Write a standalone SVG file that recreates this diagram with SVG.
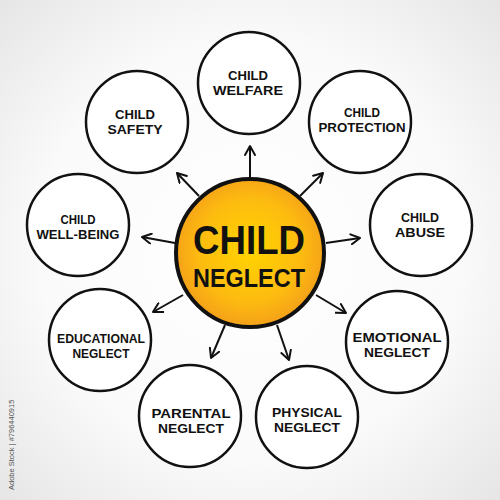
<svg xmlns="http://www.w3.org/2000/svg" width="500" height="500" viewBox="0 0 500 500">
<defs>
<radialGradient id="bg" cx="50%" cy="50%" r="70%">
<stop offset="0" stop-color="#ffffff"/>
<stop offset="0.6" stop-color="#fafafa"/>
<stop offset="1" stop-color="#e6e6e6"/>
</radialGradient>
<radialGradient id="core" cx="50%" cy="48%" r="50%">
<stop offset="0" stop-color="#ffd400"/>
<stop offset="0.7" stop-color="#fdbb10"/>
<stop offset="1" stop-color="#f5a318"/>
</radialGradient>
<marker id="ah" viewBox="0 0 12 12" refX="10" refY="6" markerWidth="12" markerHeight="12" markerUnits="userSpaceOnUse" orient="auto">
<path d="M1,1 L10,6 L1,11" fill="none" stroke="#111" stroke-width="2" stroke-linecap="round" stroke-linejoin="round"/>
</marker>
</defs>
<style>
.node circle{fill:#ffffff;stroke:#111;stroke-width:2.5}
.lbl{font-family:"Liberation Sans",Arial,sans-serif;font-weight:700;font-size:13px;fill:#111;text-anchor:middle}
.conn line{stroke:#111;stroke-width:2;marker-end:url(#ah)}
.big{font-family:"Liberation Sans",Arial,sans-serif;font-weight:700;fill:#111;text-anchor:middle}
</style>
<rect width="500" height="500" fill="url(#bg)"/>
<g id="connectors" class="conn">
<line x1="250" y1="180" x2="250" y2="146"/>
<line x1="300" y1="196" x2="323" y2="173"/>
<line x1="326" y1="243" x2="360" y2="238"/>
<line x1="316" y1="295" x2="346" y2="313"/>
<line x1="277" y1="325" x2="289" y2="360"/>
<line x1="225" y1="325" x2="211" y2="358"/>
<line x1="183" y1="295" x2="153" y2="312"/>
<line x1="175" y1="243" x2="142" y2="237"/>
<line x1="199" y1="196" x2="177" y2="173"/>
</g>
<g id="center">
<circle cx="250" cy="253" r="74" fill="url(#core)" stroke="#111" stroke-width="4"/>
<text class="big" x="249" y="254" font-size="40" textLength="112" lengthAdjust="spacingAndGlyphs">CHILD</text>
<text class="big" x="249" y="287" font-size="26" textLength="112" lengthAdjust="spacingAndGlyphs">NEGLECT</text>
</g>
<g id="n-welfare" class="node">
<circle cx="249" cy="83" r="51"/>
<text class="lbl" x="248" y="80" textLength="40" lengthAdjust="spacingAndGlyphs">CHILD</text>
<text class="lbl" x="248" y="95" textLength="70" lengthAdjust="spacingAndGlyphs">WELFARE</text>
</g>
<g id="n-protection" class="node">
<circle cx="360" cy="122" r="51"/>
<text class="lbl" x="362" y="117" textLength="36" lengthAdjust="spacingAndGlyphs">CHILD</text>
<text class="lbl" x="362" y="132" textLength="87" lengthAdjust="spacingAndGlyphs">PROTECTION</text>
</g>
<g id="n-abuse" class="node">
<circle cx="421" cy="225" r="51"/>
<text class="lbl" x="420" y="222" textLength="38" lengthAdjust="spacingAndGlyphs">CHILD</text>
<text class="lbl" x="420" y="237" textLength="50" lengthAdjust="spacingAndGlyphs">ABUSE</text>
</g>
<g id="n-emotional" class="node">
<circle cx="397" cy="342" r="51"/>
<text class="lbl" x="397" y="342" textLength="89" lengthAdjust="spacingAndGlyphs">EMOTIONAL</text>
<text class="lbl" x="397" y="357" textLength="66" lengthAdjust="spacingAndGlyphs">NEGLECT</text>
</g>
<g id="n-physical" class="node">
<circle cx="307" cy="417" r="51"/>
<text class="lbl" x="307" y="417" textLength="70" lengthAdjust="spacingAndGlyphs">PHYSICAL</text>
<text class="lbl" x="307" y="432" textLength="66" lengthAdjust="spacingAndGlyphs">NEGLECT</text>
</g>
<g id="n-parental" class="node">
<circle cx="190" cy="416" r="51"/>
<text class="lbl" x="191" y="418" textLength="79" lengthAdjust="spacingAndGlyphs">PARENTAL</text>
<text class="lbl" x="191" y="433" textLength="66" lengthAdjust="spacingAndGlyphs">NEGLECT</text>
</g>
<g id="n-educational" class="node">
<circle cx="100" cy="340" r="51"/>
<text class="lbl" x="101" y="343" textLength="88" lengthAdjust="spacingAndGlyphs">EDUCATIONAL</text>
<text class="lbl" x="101" y="358" textLength="57" lengthAdjust="spacingAndGlyphs">NEGLECT</text>
</g>
<g id="n-wellbeing" class="node">
<circle cx="78" cy="225" r="51"/>
<text class="lbl" x="78" y="224" textLength="35" lengthAdjust="spacingAndGlyphs">CHILD</text>
<text class="lbl" x="78" y="239" textLength="83" lengthAdjust="spacingAndGlyphs">WELL-BEING</text>
</g>
<g id="n-safety" class="node">
<circle cx="137" cy="122" r="51"/>
<text class="lbl" x="135" y="119" textLength="40" lengthAdjust="spacingAndGlyphs">CHILD</text>
<text class="lbl" x="135" y="134" textLength="55" lengthAdjust="spacingAndGlyphs">SAFETY</text>
</g>
<text x="14" y="490" transform="rotate(-90 14 490)" font-family="Liberation Sans, sans-serif" font-size="7.5" fill="#555">Adobe Stock | #796440915</text>
</svg>
